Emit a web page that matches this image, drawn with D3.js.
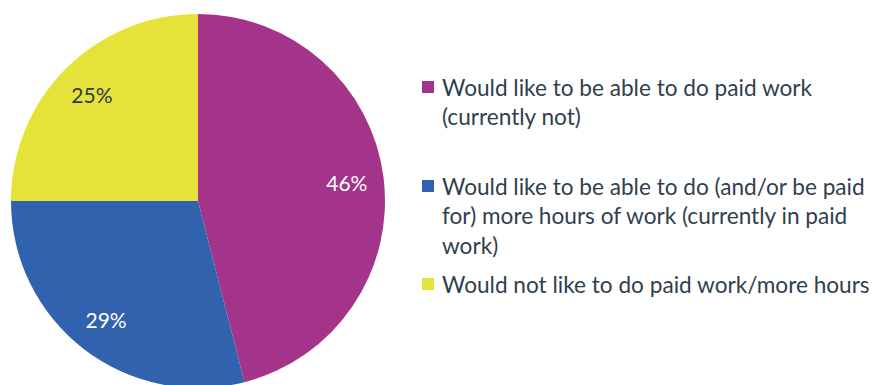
<!DOCTYPE html>
<html>
<head>
<meta charset="utf-8">
<script src="https://cdn.jsdelivr.net/npm/d3@7"></script>
<style>
  html, body { margin: 0; padding: 0; background: #fff; }
  svg { display: block; }
</style>
</head>
<body>
<svg id="chart" width="872" height="385"></svg>
<script>
// Survey responses on paid work
const categories = [
  "Would like to be able to do paid work (currently not)",
  "Would like to be able to do (and/or be paid for) more hours of work (currently in paid work)",
  "Would not like to do paid work/more hours"
];
const legendLines = [
  ["Would like to be able to do paid work", "(currently not)"],
  ["Would like to be able to do (and/or be paid", "for) more hours of work (currently in paid", "work)"],
  ["Would not like to do paid work/more hours"]
];
const values = [46, 29, 25];
const colors = ["#A43489", "#3062AE", "#E5E33A"];
const labelColors = ["#ffffff", "#ffffff", "#2c3a44"];

const svg = d3.select("#chart");
const cx = 198, cy = 201, radius = 187;

const pie = d3.pie().sort(null).value(d => d)(values);
const arc = d3.arc().innerRadius(0).outerRadius(radius);
const labelArc = d3.arc().innerRadius(150).outerRadius(150);

const g = svg.append("g").attr("transform", `translate(${cx},${cy})`);

g.selectAll("path.slice")
  .data(pie)
  .join("path")
  .attr("class", "slice")
  .attr("d", arc)
  .attr("fill", (d, i) => colors[i]);

g.selectAll("text.pct")
  .data(pie)
  .join("text")
  .attr("class", "pct")
  .attr("transform", d => `translate(${labelArc.centroid(d)})`)
  .attr("text-anchor", "middle")
  .attr("dominant-baseline", "central")
  .attr("font-family", "Lato, 'Open Sans', sans-serif")
  .attr("font-size", 21)
  .attr("fill", (d, i) => labelColors[i])
  .text(d => d.data + "%");

// Legend
const legendX = 422, textX = 442, lineH = 29.5;
const blockTops = [87, 186, 284];
const legend = svg.append("g")
  .attr("font-family", "Lato, 'Open Sans', sans-serif")
  .attr("fill", "#2f3f4f");

legendLines.forEach((lines, i) => {
  legend.append("rect")
    .attr("x", legendX)
    .attr("y", blockTops[i] - 6)
    .attr("width", 12)
    .attr("height", 12)
    .attr("fill", colors[i]);
  lines.forEach((ln, j) => {
    legend.append("text")
      .attr("class", "lg")
      .attr("x", textX)
      .attr("y", blockTops[i] + j * lineH)
      .attr("dominant-baseline", "central")
      .attr("font-size", 21)
      .text(ln);
  });
});

// Fit the legend text size so the longest line spans the available width
const longest = legend.selectAll("text.lg").nodes()
  .reduce((m, n) => Math.max(m, n.getComputedTextLength()), 0);
const fitSize = 21 * 428 / longest;
legend.selectAll("text.lg").attr("font-size", fitSize);
</script>
</body>
</html>
